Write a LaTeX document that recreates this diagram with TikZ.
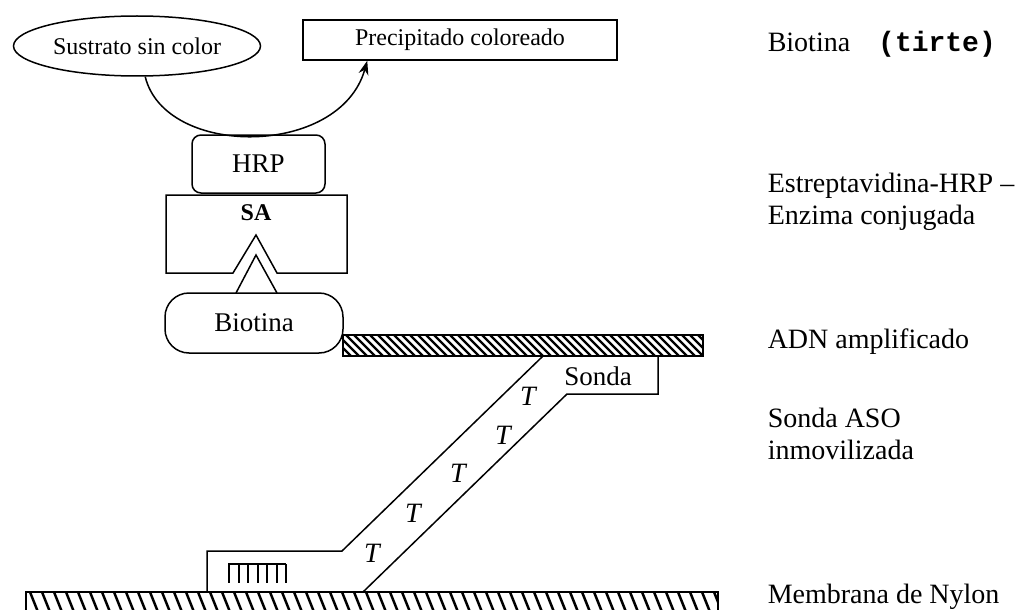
\documentclass[tikz,border=0pt]{standalone}
\usepackage{fontspec}
\setmainfont{Liberation Serif}
\setmonofont{Liberation Mono}
\usetikzlibrary{shapes.geometric,arrows.meta}

\begin{document}
\begin{tikzpicture}[x=1pt, y=-1pt, line width=1.5pt,
    txt/.style={font=\fontsize{24}{28}\selectfont},
    bigtxt/.style={font=\fontsize{27}{31}\selectfont},
    lbl/.style={anchor=west, align=left, inner sep=0pt, font=\fontsize{28}{32}\selectfont},
    molbox/.style={draw, rounded corners=9pt, bigtxt},
    tbase/.style={inner sep=0pt, font=\fontsize{28}{30}\selectfont\itshape}]
  \useasboundingbox (0,0) rectangle (1031,610);
  % substrate turned into a coloured precipitate
  \node[draw, ellipse, minimum width=247pt, minimum height=60pt, inner sep=0pt, txt] (sust) at (137,46) {Sustrato sin color};
  \node[draw, minimum width=314pt, minimum height=40pt, txt] (prec) at (460,40) {Precipitado coloreado};
  \coordinate (tip) at ([xshift=65pt]prec.south west);
  \draw[-{Stealth[length=14pt,width=10pt]}] (sust.-75) .. controls (165,158) and (340,158) .. (tip);
  % streptavidin-HRP conjugate
  \node[molbox, minimum width=133pt, minimum height=58pt] (hrp) at (258.5,164) {HRP};
  \draw (166,195) -- (347,195) -- (347,273) -- (277,273) -- (256,235) -- (233,273) -- (166,273) -- cycle;
  \node[txt] (sa) at (256,213) {\textbf{SA}};
  \node[draw, rounded corners=24pt, minimum width=178pt, minimum height=60pt, bigtxt] (biot) at (254,323) {Biotina};
  \draw (236,293) -- (256,255) -- (277,293);
  % immobilised ASO probe
  \draw[fill=white] (207,592) -- (207,551) -- (342,551) -- (543,356) -- (658,356) -- (658,394) -- (567,394) -- (363,592);
  \node[bigtxt] (sonda) at (598,376) {Sonda};
  \foreach \px/\py [count=\i] in {372/553, 413/513, 458/473, 503/435, 528/396}
    \node[tbase] (t\i) at (\px,\py) {T};
  \draw[line width=1.2pt] (228,564) -- (286,564);
  \foreach \x in {229,238.5,...,286}
    \draw[line width=2pt] (\x,564) -- (\x,583);
  % amplified DNA strand
  \fill[white] (343,335) rectangle (703,356);
  \begin{scope}
    \clip (343,335) rectangle (703,356);
    \foreach \x in {322,330,...,710}
      \draw[line width=2.2pt] (\x,335) -- ++(21,21);
  \end{scope}
  \draw (343,335) rectangle (703,356);
  % nylon membrane
  \begin{scope}
    \clip (26,592) rectangle (718,612);
    \foreach \x in {18,30,...,720}
      \draw[line width=2.5pt] (\x,592) -- ++(8,20);
  \end{scope}
  \draw (26,612) -- (26,592) -- (718,592) -- (718,612);
  % labels
  \node[lbl] (lbiot) at (767,44) {Biotina\quad{\ttfamily\bfseries (tirte)}};
  \node[lbl] (lsa) at (767,202) {Estreptavidina-HRP –\\Enzima conjugada};
  \node[lbl] (ladn) at (767,342) {ADN amplificado};
  \node[lbl] (laso) at (767,434) {Sonda ASO\\inmovilizada};
  \node[lbl] (lnyl) at (767,597) {Membrana de Nylon};
\end{tikzpicture}
\end{document}
